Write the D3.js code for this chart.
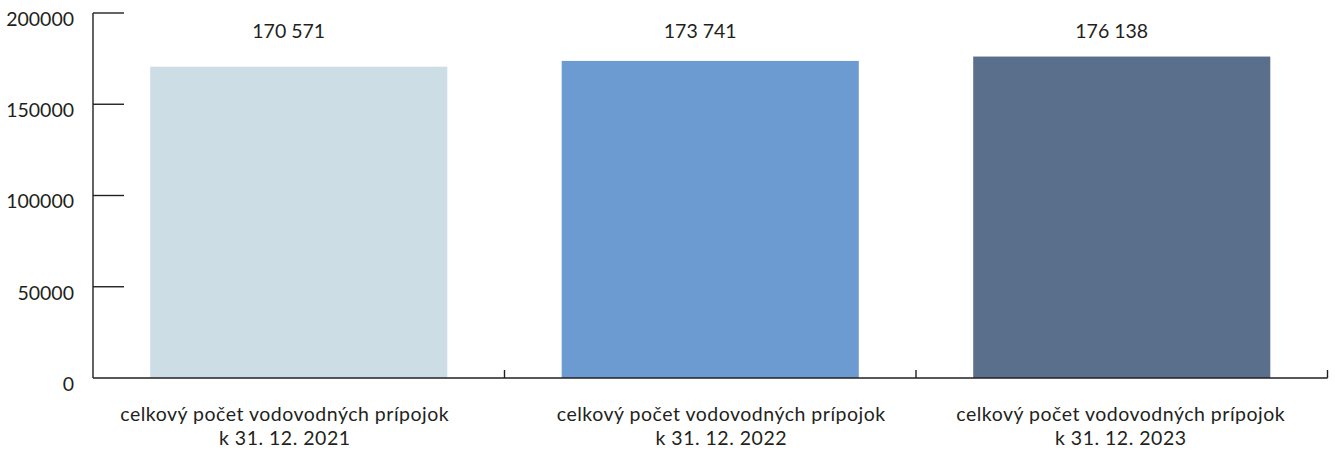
<!DOCTYPE html>
<html><head><meta charset="utf-8">
<script src="https://cdn.jsdelivr.net/npm/d3@7"></script>
<style>body{margin:0;background:#fff}svg{display:block}text{font-family:"Lato",sans-serif;fill:#231f20}</style>
</head><body><svg id="c" width="1335" height="453"></svg>
<script>
const categories = ["celkový počet vodovodných prípojok\nk 31. 12. 2021","celkový počet vodovodných prípojok\nk 31. 12. 2022","celkový počet vodovodných prípojok\nk 31. 12. 2023"];
const values = [170571, 173741, 176138];
const valueLabels = ["170 571","173 741","176 138"];
const yTicks = [0, 50000, 100000, 150000, 200000];
const colors = ["#cddde6","#6b9bd1","#5a6f8c"];

const svg = d3.select("#c");
const L = 93, R = 1327.5, T = 13, B = 378;
const FS = 19.5;
const x = d3.scaleBand().domain(d3.range(categories.length)).range([L, R]).paddingInner(0.278).paddingOuter(0.139);
const xs = d3.scaleBand().domain(d3.range(categories.length)).range([L, R]);
const y = d3.scaleLinear().domain([0, 200000]).range([B, T]);

svg.selectAll("rect.bar").data(values).join("rect").attr("class","bar")
  .attr("x",(d,i)=>x(i)).attr("width",x.bandwidth())
  .attr("y",d=>y(d)).attr("height",d=>B-y(d)).attr("fill",(d,i)=>colors[i]);

// y axis
const g = svg.append("g").attr("stroke","#231f20").attr("stroke-width",1.4);
g.append("line").attr("x1",L).attr("x2",L).attr("y1",y(200000)).attr("y2",B);
g.selectAll("line.t").data(yTicks.slice(1)).join("line").attr("class","t")
  .attr("x1",L).attr("x2",L+31).attr("y1",d=>y(d)).attr("y2",d=>y(d));
svg.selectAll("text.yt").data(yTicks).join("text").attr("class","yt")
  .attr("x",74).attr("y",d=>y(d)+6).attr("dy","0.35em").attr("text-anchor","end")
  .attr("font-size",FS).text(d=>d);
// x axis
g.append("line").attr("x1",L).attr("x2",R).attr("y1",B).attr("y2",B);
g.selectAll("line.xt").data(d3.range(1,categories.length+1)).join("line").attr("class","xt")
  .attr("x1",i=>L+xs.step()*i).attr("x2",i=>L+xs.step()*i).attr("y1",B).attr("y2",B-8);

// value labels
svg.selectAll("text.vl").data(values).join("text").attr("class","vl")
  .attr("x",(d,i)=>x(i)+x.bandwidth()/2-10).attr("y",31).attr("dy","0.35em")
  .attr("text-anchor","middle").attr("font-size",FS).text((d,i)=>valueLabels[i]);

// category labels
const dx = [-14, 11, -1];
categories.forEach((c,i)=>{
  c.split("\n").forEach((ln,j)=>svg.append("text").attr("text-anchor","middle").attr("font-size",FS)
    .attr("letter-spacing","0.5px")
    .attr("x", xs(i)+xs.bandwidth()/2+dx[i]).attr("y",414+24*j).attr("dy","0.35em").text(ln));
});
</script></body></html>
